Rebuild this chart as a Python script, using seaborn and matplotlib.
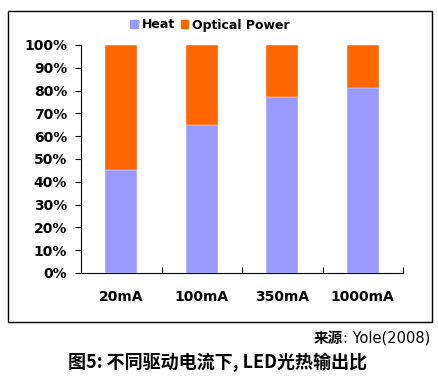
import matplotlib
matplotlib.use("Agg")
import matplotlib.pyplot as plt
import seaborn as sns
import pandas as pd
from matplotlib.patches import Rectangle, Patch

categories = ["20mA", "100mA", "350mA", "1000mA"]
heat = [45, 65, 77, 81]
optical = [55, 35, 23, 19]
yticks = [0, 10, 20, 30, 40, 50, 60, 70, 80, 90, 100]

sns.set_theme(style="white")
plt.rcParams['font.family'] = ['DejaVu Sans', 'Noto Sans CJK SC']
plt.rcParams['text.color'] = 'black'
plt.rcParams['xtick.color'] = 'black'
plt.rcParams['ytick.color'] = 'black'

df = pd.DataFrame({"cat": categories, "heat": heat, "optical": optical})
df["total"] = df["heat"] + df["optical"]

fig = plt.figure(figsize=(4.38, 3.83), dpi=100)
fig.patch.set_facecolor("white")
fig.patches.append(Rectangle((8/438, 1-322/383), 424/438, 311/383, transform=fig.transFigure,
                             fill=False, edgecolor="black", linewidth=1.0, zorder=0))

ax = fig.add_axes([81/438, 1-273/383, 322/438, 228/383])
sns.barplot(data=df, x="cat", y="total", color="#FF6600", saturation=1, width=0.4, ax=ax)
sns.barplot(data=df, x="cat", y="heat", color="#9999FF", saturation=1, width=0.4, ax=ax)
for p in ax.patches:
    p.set_edgecolor("white")
    p.set_linewidth(0.3)

ax.set_xlim(-0.5, 3.5)
ax.set_ylim(0, 100)
ax.set_yticks(yticks)
ax.set_yticklabels([f"{v}%" for v in yticks], fontsize=10, fontweight="bold")
ax.set_xticks(range(len(categories)))
ax.set_xticklabels(categories, fontsize=10, fontweight="bold")
ax.set_xlabel("")
ax.set_ylabel("")
for s in ["top", "right"]:
    ax.spines[s].set_visible(False)
for s in ["left", "bottom"]:
    ax.spines[s].set_color("black")
    ax.spines[s].set_linewidth(0.8)
ax.tick_params(axis="y", direction="out", length=4, width=0.8, left=True, pad=6, colors="black")
ax.tick_params(axis="x", length=0, pad=12, colors="black")
ax.set_xticks([0.5, 1.5, 2.5, 3.5], minor=True)
ax.tick_params(axis="x", which="minor", direction="in", length=4, width=0.8, bottom=True)

handles = [Patch(color="#9999FF", label="Heat"), Patch(color="#FF6600", label="Optical Power")]
fig.legend(handles=handles, loc="center", bbox_to_anchor=(210/438, 1-25/383), ncol=2, frameon=False,
           prop={"size": 9, "weight": "bold"}, handlelength=0.6, handleheight=0.6,
           handletextpad=0.3, columnspacing=0.5)

src = fig.text(430/438, 1-338/383, ": Yole(2008)", ha="right", va="center", fontsize=10.5,
               family=['DejaVu Sans', 'Noto Sans CJK SC'], color="black")
fig.canvas.draw()
bb = src.get_window_extent()
fig.text(bb.x0/438, 1-338/383, "来源", ha="right", va="center", fontsize=10.5, fontweight="bold",
         family=['Noto Sans CJK SC', 'DejaVu Sans'], color="black")

fig.text(217/438, 1-362/383, "图5: 不同驱动电流下, LED光热输出比", ha="center", va="center",
         fontsize=13, fontweight="bold", family=['Noto Sans CJK SC', 'DejaVu Sans'], color="black")

fig.savefig("out.png", dpi=100, facecolor="white")
